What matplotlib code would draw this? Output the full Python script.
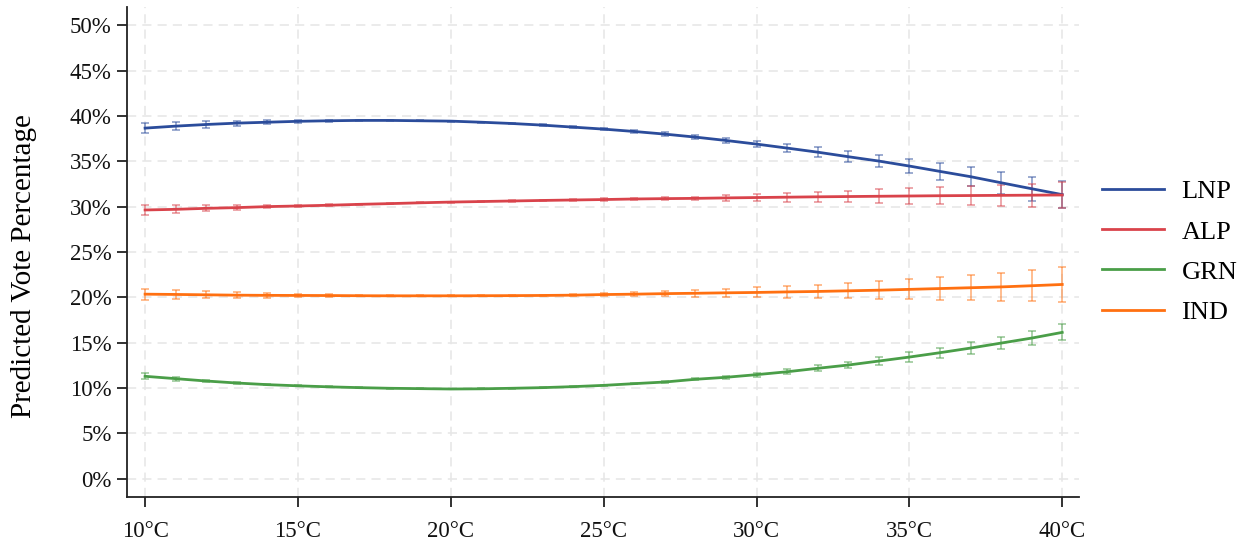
import numpy as np
import matplotlib
matplotlib.use("Agg")
import matplotlib.pyplot as plt

plt.rcParams['font.family'] = ['Liberation Serif', 'DejaVu Serif']

# Temperature grid (°C)
temps = list(range(10, 41))

# Predicted vote share (%) by party
lnp = [38.65, 38.87, 39.05, 39.20, 39.30, 39.40, 39.46, 39.50, 39.50, 39.46,
       39.42, 39.30, 39.16, 38.98, 38.76, 38.54, 38.28, 37.99, 37.66, 37.29,
       36.89, 36.45, 36.00, 35.50, 35.02, 34.47, 33.88, 33.30, 32.63, 31.97,
       31.32]
alp = [29.63, 29.70, 29.81, 29.89, 30.00, 30.07, 30.15, 30.25, 30.33, 30.42,
       30.50, 30.56, 30.62, 30.68, 30.73, 30.78, 30.84, 30.88, 30.91, 30.96,
       31.00, 31.04, 31.08, 31.11, 31.14, 31.17, 31.20, 31.22, 31.24, 31.26,
       31.28]
grn = [11.30, 11.04, 10.78, 10.56, 10.38, 10.25, 10.14, 10.05, 9.98, 9.94,
       9.90, 9.92, 9.98, 10.05, 10.16, 10.30, 10.49, 10.67, 10.97, 11.19,
       11.48, 11.80, 12.18, 12.54, 12.98, 13.42, 13.90, 14.41, 14.96, 15.51,
       16.14]
ind = [20.35, 20.32, 20.28, 20.24, 20.22, 20.21, 20.20, 20.18, 20.17, 20.17,
       20.17, 20.18, 20.19, 20.21, 20.24, 20.31, 20.35, 20.41, 20.45, 20.50,
       20.54, 20.60, 20.65, 20.72, 20.79, 20.88, 20.97, 21.06, 21.15, 21.28,
       21.42]

# Half-width of the confidence interval (percentage points)
lnp_err = [0.55, 0.44, 0.37, 0.29, 0.24, 0.18, 0.12, 0.08, 0.06, 0.05,
           0.05, 0.06, 0.07, 0.09, 0.11, 0.14, 0.17, 0.20, 0.23, 0.27,
           0.37, 0.44, 0.53, 0.59, 0.68, 0.81, 0.92, 1.08, 1.19, 1.34,
           1.45]
alp_err = [0.55, 0.44, 0.33, 0.26, 0.18, 0.15, 0.10, 0.07, 0.05, 0.05,
           0.05, 0.06, 0.07, 0.08, 0.10, 0.12, 0.13, 0.14, 0.16, 0.33,
           0.40, 0.50, 0.57, 0.62, 0.75, 0.84, 0.95, 1.02, 1.12, 1.26,
           1.43]
grn_err = [0.33, 0.22, 0.15, 0.10, 0.07, 0.05, 0.04, 0.04, 0.04, 0.04,
           0.04, 0.04, 0.05, 0.05, 0.06, 0.07, 0.08, 0.09, 0.11, 0.16,
           0.22, 0.26, 0.31, 0.37, 0.42, 0.55, 0.57, 0.62, 0.70, 0.77,
           0.88]
ind_err = [0.60, 0.51, 0.40, 0.33, 0.26, 0.18, 0.12, 0.08, 0.06, 0.05,
           0.05, 0.06, 0.07, 0.09, 0.12, 0.15, 0.20, 0.27, 0.37, 0.46,
           0.55, 0.62, 0.73, 0.84, 0.99, 1.10, 1.25, 1.39, 1.54, 1.69,
           1.92]

parties = ["LNP", "ALP", "GRN", "IND"]
colors = ["#2b4c9b", "#d9434b", "#4a9e48", "#ff7011"]
values = [lnp, alp, grn, ind]
errors = [lnp_err, alp_err, grn_err, ind_err]

xticks = [10, 15, 20, 25, 30, 35, 40]
xtick_labels = ["10°C", "15°C", "20°C", "25°C", "30°C", "35°C", "40°C"]
yticks = [0, 5, 10, 15, 20, 25, 30, 35, 40, 45, 50]
ytick_labels = [f"{v}%" for v in yticks]

fig = plt.figure(figsize=(12.45, 5.5), dpi=100)
ax = fig.add_axes([0.1018, 0.0964, 0.8667 - 0.1018, 0.9873 - 0.0964])

for name, col, val, err in zip(parties, colors, values, errors):
    ax.errorbar(temps, val, yerr=err, fmt="none", ecolor=col, alpha=0.5,
                elinewidth=1.3, capsize=3.2, capthick=1.3, zorder=2)
    ax.plot(temps, val, color=col, lw=2.0, label=name, zorder=3)

ax.set_xlim(9.4, 40.55)
ax.set_ylim(-2, 52)
ax.set_xticks(xticks)
ax.set_xticklabels(xtick_labels)
ax.set_yticks(yticks)
ax.set_yticklabels(ytick_labels)

ax.grid(True, color="#e6e6e6", linestyle=(0, (6, 4)), linewidth=1.1, zorder=0)
ax.set_axisbelow(True)

for side in ("top", "right"):
    ax.spines[side].set_visible(False)
for side in ("left", "bottom"):
    ax.spines[side].set_linewidth(1.3)
    ax.spines[side].set_color("#222222")

ax.tick_params(axis="both", direction="out", length=7, width=1.3,
               color="#222222", labelsize=16.5, labelcolor="#111111")
ax.tick_params(axis="x", pad=10)
ax.tick_params(axis="y", pad=4)

ax.set_ylabel("Predicted Vote Percentage", fontsize=21)
ax.yaxis.set_label_coords(-0.094, 0.471)

fig.legend(loc="center left", bbox_to_anchor=(0.885, 0.542), frameon=False,
           fontsize=19, handlelength=2.35, handletextpad=0.67,
           labelspacing=0.63, borderpad=0, borderaxespad=0)

fig.savefig("out.png", dpi=100)
